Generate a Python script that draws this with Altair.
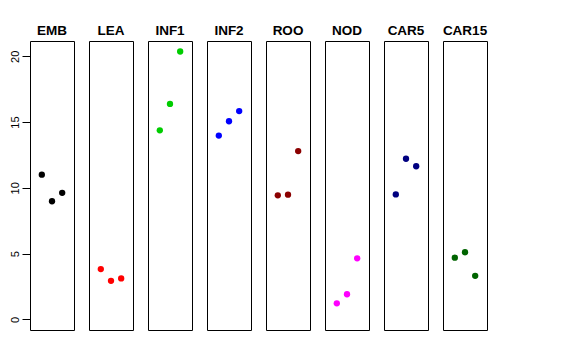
import altair as alt
import pandas as pd

groups = ["EMB", "LEA", "INF1", "INF2", "ROO", "NOD", "CAR5", "CAR15"]
colors = ["#000000", "#FF0000", "#00CD00", "#0000FF", "#8B0000", "#FF00FF", "#000080", "#006400"]
emb = [11.0, 8.98, 9.62]
lea = [3.82, 2.93, 3.11]
inf1 = [14.37, 16.38, 20.36]
inf2 = [13.97, 15.06, 15.83]
roo = [9.43, 9.48, 12.79]
nod = [1.22, 1.91, 4.64]
car5 = [9.5, 12.21, 11.64]
car15 = [4.69, 5.1, 3.31]
series = [emb, lea, inf1, inf2, roo, nod, car5, car15]
idx = [1, 2, 3]

rows = []
for g, vals in zip(groups, series):
    for i, v in zip(idx, vals):
        rows.append({"group": g, "idx": i, "value": v})
df = pd.DataFrame(rows)

base = alt.Chart(df).mark_circle(size=40, opacity=1).encode(
    x=alt.X("idx:Q", scale=alt.Scale(domain=[-0.16, 4.16], nice=False, zero=False), axis=None),
    y=alt.Y("value:Q", scale=alt.Scale(domain=[-0.81, 21.16], nice=False, zero=False),
            axis=alt.Axis(title=None, values=[0, 5, 10, 15, 20], labelAngle=-90, domain=False,
                          grid=False, tickSize=8, tickColor="black", labelColor="black",
                          labelFontSize=11, labelFont="Liberation Sans", labelPadding=2,
                          labelAlign="center", labelBaseline="bottom")),
    color=alt.Color("group:N", scale=alt.Scale(domain=groups, range=colors), legend=None),
).properties(width=44, height=289)

chart = base.facet(
    column=alt.Column("group:N", sort=groups, title=None,
                      header=alt.Header(labelFontSize=13.5, labelFontWeight="bold",
                                        labelFont="Liberation Sans", labelColor="black",
                                        labelPadding=4)),
    bounds="flush",
).configure_facet(spacing=15).configure_view(stroke="black", strokeWidth=1).properties(
    padding={"left": 0, "top": 15, "right": 0, "bottom": 0}
)

chart.save("out.html", embed_options={"renderer": "svg", "actions": False})
